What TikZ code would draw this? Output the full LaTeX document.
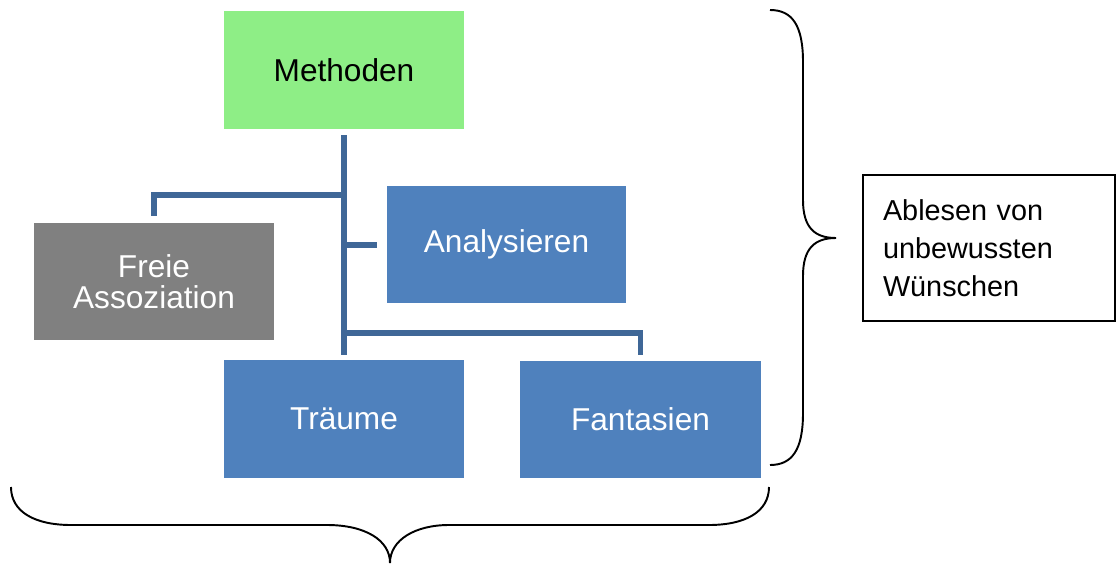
\documentclass[tikz,border=0pt]{standalone}
\usepackage{fontspec}
\setmainfont{Liberation Sans}
\usetikzlibrary{positioning}
\definecolor{methgreen}{HTML}{8EEE86}
\definecolor{boxblue}{HTML}{4F81BD}
\definecolor{boxgray}{HTML}{808080}
\definecolor{connblue}{HTML}{3F6797}
\tikzset{
	bluebox/.style = {rectangle, fill=boxblue, text=white, minimum width=4.8cm, minimum height=2.36cm, font=\fontsize{18}{17.6}\selectfont, align=center, inner sep=0pt},
	conn/.style = {draw=connblue, line width=3pt, shorten >=0.12cm},
	bracepath/.style = {draw=black, line width=1.1pt}
}
\begin{document}
\begin{tikzpicture}[x=0.02cm, y=-0.02cm]
	\useasboundingbox (0,0) rectangle (1117,565);
	\node [bluebox, fill=methgreen, text=black] (meth) at (344,70) {Methoden};
	\node [bluebox, fill=boxgray] (freie) at (154,281.5) {Freie\\Assoziation};
	\node [bluebox] (anal) at (506.5,244.5) {Analysieren};
	\node [bluebox] (traum) at (344,419) {Träume};
	\node [bluebox, minimum width=4.82cm] (fant) at (640.5,419.5) {Fantasien};
	\node [draw=black, line width=0.9pt, minimum width=5.04cm, minimum height=2.92cm, text width=4.24cm, align=left, inner sep=0pt,
		font=\fontsize{16.4}{21.5}\selectfont] (ables) at (989,248) {Ablesen von\\unbewussten\\Wünschen\\[-0.2cm]};
	\coordinate (jfreie) at (344,195);
	\coordinate (janal) at (344,245);
	\coordinate (jfant) at (344,333);
	\draw [conn, shorten <=0.12cm, shorten >=0.1cm] (meth.south) -- (traum.north);
	\draw [conn] (jfreie) -| (freie.north);
	\draw [conn, shorten >=0.18cm] (janal) -- (anal.west |- janal);
	\draw [conn, shorten >=0.1cm] (jfant) -| (fant.north);
	\draw [bracepath] (770,10) .. controls (792,10) and (803,25) .. (803,62) -- (803,200)
		.. controls (803,228) and (815,238) .. (836,238)
		.. controls (815,238) and (803,248) .. (803,276) -- (803,413)
		.. controls (803,450) and (792,465) .. (770,465);
	\draw [bracepath] (11,487) .. controls (11,512) and (35,525) .. (71,525) -- (327,525)
		.. controls (365,525) and (390,540) .. (390,563)
		.. controls (390,540) and (415,525) .. (449,525) -- (709,525)
		.. controls (745,525) and (769,512) .. (769,487);
\end{tikzpicture}
\end{document}
